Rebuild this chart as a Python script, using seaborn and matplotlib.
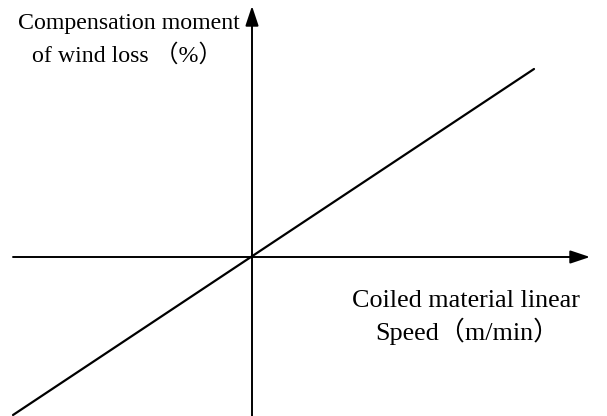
import matplotlib
matplotlib.use("Agg")
import matplotlib.pyplot as plt
import seaborn as sns
import pandas as pd

# Schematic: wind-loss compensation moment vs. coiled material linear speed
speed = [-239, 282]
moment = [-158, 188]

x_label_lines = ["Coiled material linear", "Speed（m/min）"]
y_label_lines = ["Compensation moment", "of wind loss （%）"]

sns.set_theme(style="white")
plt.rcParams["font.family"] = ["Liberation Serif", "Noto Sans CJK SC"]
plt.rcParams["text.color"] = "black"

fig = plt.figure(figsize=(6.07, 4.16), dpi=100)
ax = fig.add_axes([0, 0, 1, 1])
ax.set_xlim(-252, 355)
ax.set_ylim(-159, 257)
ax.axis("off")

df = pd.DataFrame({"speed": speed, "moment": moment})
sns.lineplot(data=df, x="speed", y="moment", ax=ax, color="black", lw=1.6)

arrow = dict(arrowstyle="-|>,head_length=0.6,head_width=0.2",
             color="black", lw=1.4, mutation_scale=20, shrinkA=0, shrinkB=0)
ax.annotate("", xy=(338, 0), xytext=(-239, 0), arrowprops=arrow)
ax.annotate("", xy=(0, 251), xytext=(0, -160), arrowprops=arrow)

fs_y = 17.2
fs_x = 18.8
ax.text(-234, 228, y_label_lines[0], fontsize=fs_y, va="baseline", ha="left", color="black")
ax.text(-220, 195, y_label_lines[1], fontsize=fs_y, va="baseline", ha="left", color="black")
ax.text(100, -50, x_label_lines[0], fontsize=fs_x, va="baseline", ha="left", color="black")
ax.text(123, -83, x_label_lines[1], fontsize=fs_x, va="baseline", ha="left", color="black")

fig.savefig("out.png", dpi=100)
